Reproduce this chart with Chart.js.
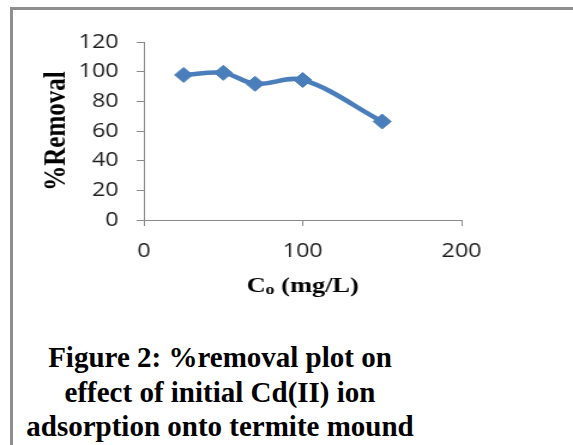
<!DOCTYPE html>
<html>
<head>
<meta charset="utf-8">
<script src="https://cdn.jsdelivr.net/npm/chart.js@4"></script>
<style>
  html, body { margin: 0; padding: 0; background: #fff; }
  body { width: 573px; height: 445px; position: relative; overflow: hidden; }
  #frame {
    position: absolute; left: 10px; top: 7px; width: 620px; height: 500px;
    border: 3px solid #8e8e8e; box-sizing: border-box;
  }
  #plot { position: absolute; left: 0; top: 0; }
  #caption {
    position: absolute; left: 0; top: 340px; width: 440px;
    text-align: center; font: bold 29px "Liberation Serif", serif;
    line-height: 34.5px; color: #000; white-space: nowrap;
  }
</style>
</head>
<body>
<div id="frame"></div>
<!-- drawn narrow and shown wider, like the stretched figure -->
<canvas id="plot" width="478" height="300" style="width:573px;height:300px"></canvas>
<div id="caption">Figure 2: %removal plot on<br>effect of initial Cd(II) ion<br>adsorption onto termite mound</div>
<script>
// initial Cd(II) concentration (mg/L) and % removal
const concentrations = [25, 50, 70, 100, 150];
const removal = [97.8, 99.2, 91.8, 94.4, 66.4];

const xTicks = [0, 100, 200];
const yTicks = [0, 20, 40, 60, 80, 100, 120];

const yTitle = '%Removal';
const xTitleMain = 'C';
const xTitleSub = 'o';
const xTitleRest = ' (mg/L)';

const axisGray = '#8a8a8a';
const lineBlue = '#4A7EBB';

// axis titles drawn by hand so the x title can carry its subscript
const axisTitles = {
  id: 'axisTitles',
  afterDraw(chart) {
    const { ctx, chartArea } = chart;
    ctx.save();
    ctx.fillStyle = '#000';
    ctx.translate(48, (chartArea.top + chartArea.bottom) / 2);
    ctx.rotate(-Math.PI / 2);
    ctx.font = 'bold 25px "Liberation Serif"';
    ctx.textAlign = 'center';
    ctx.textBaseline = 'middle';
    ctx.fillText(yTitle, 0, 0);
    ctx.restore();

    ctx.save();
    ctx.fillStyle = '#000';
    ctx.textBaseline = 'alphabetic';
    ctx.textAlign = 'left';
    const big = 'bold 22px "Liberation Serif"';
    const small = 'bold 15px "Liberation Serif"';
    ctx.font = big;
    const w1 = ctx.measureText(xTitleMain).width;
    const w3 = ctx.measureText(xTitleRest).width;
    ctx.font = small;
    const w2 = ctx.measureText(xTitleSub).width;
    const baseY = 292;
    let x = (chartArea.left + chartArea.right) / 2 - (w1 + w2 + w3) / 2;
    ctx.font = big;
    ctx.fillText(xTitleMain, x, baseY);
    x += w1;
    ctx.font = small;
    ctx.fillText(xTitleSub, x, baseY + 2);
    x += w2;
    ctx.font = big;
    ctx.fillText(xTitleRest, x, baseY);
    ctx.restore();
  }
};

const tickFont = { family: '"Open Sans"', size: 19.5 };

new Chart(document.getElementById('plot'), {
  type: 'scatter',
  data: {
    datasets: [{
      data: concentrations.map((c, i) => ({ x: c, y: removal[i] })),
      showLine: true,
      borderColor: lineBlue,
      backgroundColor: lineBlue,
      borderWidth: 4.5,
      tension: 0.35,
      pointStyle: 'rectRot',
      pointRadius: 7.5,
      pointBorderWidth: 1,
      pointBorderColor: lineBlue,
      pointBackgroundColor: lineBlue
    }]
  },
  options: {
    responsive: false,
    animation: false,
    devicePixelRatio: 1,
    layout: { padding: { top: 42, right: 93, left: 0, bottom: 0 } },
    plugins: { legend: { display: false }, tooltip: { enabled: false } },
    scales: {
      x: {
        type: 'linear',
        min: 0,
        max: 200,
        afterFit: s => { s.height = 80; },
        afterBuildTicks: s => { s.ticks = xTicks.map(v => ({ value: v })); },
        grid: { display: true, drawOnChartArea: false, drawTicks: true, tickLength: 6, color: axisGray, lineWidth: 1 },
        border: { display: true, color: axisGray, width: 1 },
        ticks: { font: tickFont, color: '#1e1e1e', padding: 14, maxRotation: 0 }
      },
      y: {
        min: 0,
        max: 120,
        afterFit: s => { s.width = 120; },
        afterBuildTicks: s => { s.ticks = yTicks.map(v => ({ value: v })); },
        grid: { display: true, drawOnChartArea: false, drawTicks: true, tickLength: 6, color: axisGray, lineWidth: 1 },
        border: { display: true, color: axisGray, width: 1 },
        ticks: { font: tickFont, color: '#1e1e1e', padding: 15 }
      }
    }
  },
  plugins: [axisTitles]
});
</script>
</body>
</html>
